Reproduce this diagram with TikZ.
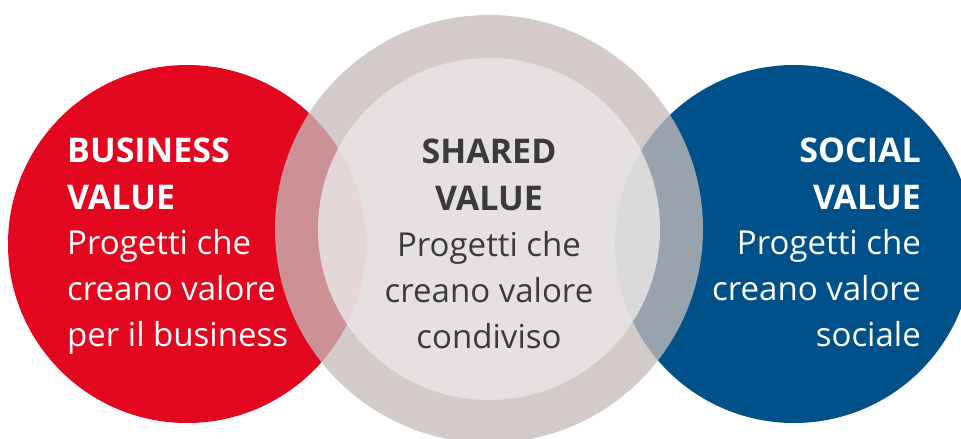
\documentclass[tikz,border=0pt]{standalone}
\usepackage{fontspec}
\setmainfont{Open Sans}
\begin{document}
\begin{tikzpicture}[x=1pt,y=-1pt,
  line/.style={inner sep=0pt, font=\fontsize{33}{40}\selectfont},
  head/.style={line, font=\fontsize{34}{40}\selectfont\bfseries},
  leftline/.style={anchor=base west, text=white},
  midline/.style={anchor=base, text=midtext},
  rightline/.style={anchor=base east, text=white}]
\definecolor{bizred}{RGB}{227,6,31}
\definecolor{socblue}{RGB}{0,81,138}
\definecolor{ringgray}{RGB}{198,188,185}
\definecolor{coregray}{RGB}{234,231,230}
\definecolor{midtext}{RGB}{58,58,58}
\path[use as bounding box, fill=white] (0,0) rectangle (961,439);

% outer circles
\fill[bizred] (187,244) circle[radius=179];
\fill[socblue] (794,244) circle[radius=179];
% translucent shared circle: ring and lighter core
\fill[ringgray, fill opacity=0.77] (489,229) circle[radius=214];
\fill[coregray, fill opacity=0.82] (489,229) circle[radius=171];

% business value
\node[head, leftline] (b1) at (67,162) {BUSINESS};
\node[head, leftline] (b2) at (67,209) {VALUE};
\node[line, leftline] (b3) at (67,254) {Progetti che};
\node[line, leftline] (b4) at (67,300) {creano valore};
\node[line, leftline] (b5) at (67,346) {per il business};

% shared value
\node[head, midline] (s1) at (489,163) {SHARED};
\node[head, midline] (s2) at (489,210) {VALUE};
\node[line, midline] (s3) at (489,256) {Progetti che};
\node[line, midline] (s4) at (489,302) {creano valore};
\node[line, midline] (s5) at (489,348) {condiviso};

% social value
\node[head, rightline] (c1) at (921,162) {SOCIAL};
\node[head, rightline] (c2) at (921,209) {VALUE};
\node[line, rightline] (c3) at (921,254) {Progetti che};
\node[line, rightline] (c4) at (921,300) {creano valore};
\node[line, rightline] (c5) at (921,346) {sociale};
\end{tikzpicture}
\end{document}
